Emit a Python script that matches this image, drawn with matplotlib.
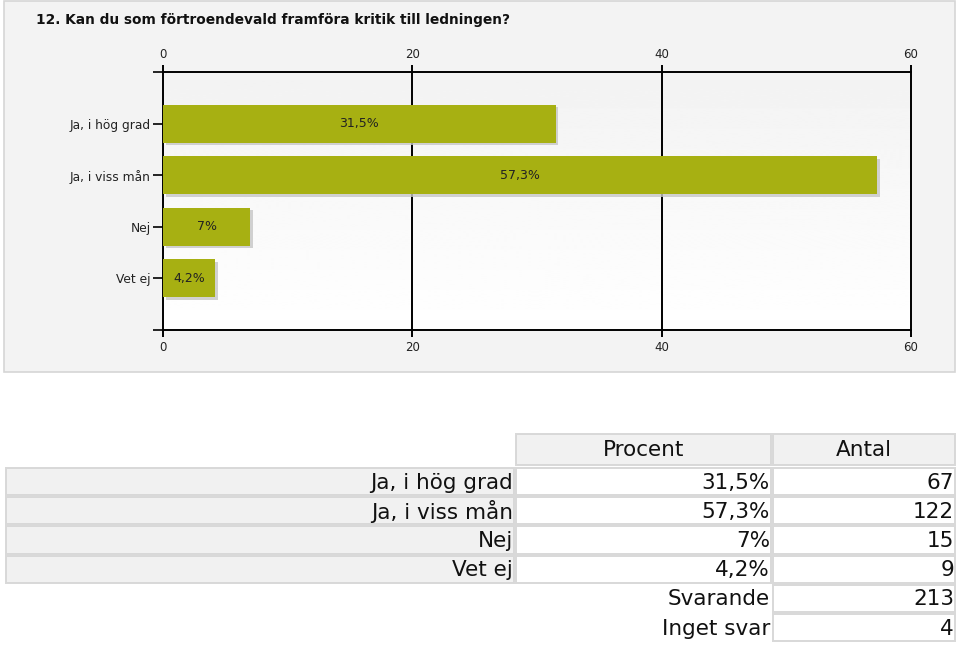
import numpy as np
import matplotlib
matplotlib.use("Agg")
import matplotlib.pyplot as plt
from matplotlib.patches import Rectangle

title = "12. Kan du som förtroendevald framföra kritik till ledningen?"
categories = ["Ja, i hög grad", "Ja, i viss mån", "Nej", "Vet ej"]
percent = [31.5, 57.3, 7.0, 4.2]
percent_labels = ["31,5%", "57,3%", "7%", "4,2%"]
counts = [67, 122, 15, 9]
answered = 213
no_answer = 4
xticks = [0, 20, 40, 60]

W, H = 960, 646
bar_color = "#a7b012"

fig = plt.figure(figsize=(W / 100, H / 100), dpi=100)
fig.patch.set_facecolor("white")

# background axes in pixel coordinates (panel + table)
bg = fig.add_axes([0, 0, 1, 1], zorder=0)
bg.set_xlim(0, W)
bg.set_ylim(H, 0)
bg.axis("off")

bg.add_patch(Rectangle((4, 1), 951, 371, facecolor="#f3f3f3", edgecolor="#d6d6d6", lw=1.2))
bg.text(36, 20, title, fontsize=9.9, fontweight="bold", color="#111111", va="center", ha="left")

# table
col_x = [5, 515, 772, 956]
hdr_top, hdr_bot = 433, 466
row_h = 29.2
cell_bg = "#f1f1f1"
cell_edge = "#d8d8d8"
tfs = 15.5


def cell(x0, x1, y0, y1, fc):
    bg.add_patch(Rectangle((x0 + 1, y0 + 1), x1 - x0 - 2, y1 - y0 - 2,
                           facecolor=fc, edgecolor=cell_edge, lw=1.4))


cell(col_x[1], col_x[2], hdr_top, hdr_bot, cell_bg)
cell(col_x[2], col_x[3], hdr_top, hdr_bot, cell_bg)
bg.text((col_x[1] + col_x[2]) / 2, (hdr_top + hdr_bot) / 2 + 1, "Procent", fontsize=tfs,
        ha="center", va="center", color="#111111")
bg.text((col_x[2] + col_x[3]) / 2, (hdr_top + hdr_bot) / 2 + 1, "Antal", fontsize=tfs,
        ha="center", va="center", color="#111111")

y = hdr_bot + 1
for cat, pl, n in zip(categories, percent_labels, counts):
    cell(col_x[0], col_x[1], y, y + row_h, cell_bg)
    cell(col_x[1], col_x[2], y, y + row_h, "white")
    cell(col_x[2], col_x[3], y, y + row_h, "white")
    yc = y + row_h / 2 + 1
    bg.text(col_x[1] - 2, yc, cat, fontsize=tfs, ha="right", va="center", color="#111111")
    bg.text(col_x[2] - 2, yc, pl, fontsize=tfs, ha="right", va="center", color="#111111")
    bg.text(col_x[3] - 2, yc, str(n), fontsize=tfs, ha="right", va="center", color="#111111")
    y += row_h

for lab, n in [("Svarande", answered), ("Inget svar", no_answer)]:
    cell(col_x[2], col_x[3], y, y + row_h, "white")
    yc = y + row_h / 2 + 1
    bg.text(col_x[2] - 2, yc, lab, fontsize=tfs, ha="right", va="center", color="#111111")
    bg.text(col_x[3] - 2, yc, str(n), fontsize=tfs, ha="right", va="center", color="#111111")
    y += row_h

# bar chart
left, right, top, bottom = 163, 911, 72, 330
ax = fig.add_axes([left / W, 1 - bottom / H, (right - left) / W, (bottom - top) / H], zorder=1)
ax.set_xlim(0, 60)
ax.set_ylim(4, -1)

grad = np.linspace(0.95, 1.0, 256).reshape(-1, 1)
ax.imshow(grad, extent=[0, 60, 4, -1], aspect="auto", cmap="gray", vmin=0, vmax=1,
          interpolation="bilinear", zorder=0)

pos = np.arange(len(categories))
ax.barh(pos + 0.05, percent, left=0.22, height=0.74, color="#c6c6c6", alpha=0.8, zorder=2)
ax.barh(pos, percent, height=0.74, color=bar_color, zorder=3)
for p, v, lab in zip(pos, percent, percent_labels):
    ax.text(v / 2, p, lab, ha="center", va="center", fontsize=9, color="#222222", zorder=4)

for g in xticks[1:-1]:
    ax.axvline(g, color="black", lw=1.4, zorder=1)

for s in ax.spines.values():
    s.set_color("black")
    s.set_linewidth(1.4)

ax.set_xticks(xticks)
ax.set_xticklabels([str(t) for t in xticks], fontsize=8.5, color="#222222")
ax.tick_params(axis="x", which="both", top=True, bottom=True, labeltop=True, labelbottom=True,
               direction="out", length=5, width=1.4, pad=3)
ax.set_yticks([-1] + list(pos) + [4])
ax.set_yticklabels([""] + categories + [""], fontsize=8.8, color="#222222")
ax.tick_params(axis="y", direction="out", length=7, width=1.2, pad=2)

fig.savefig("out.png", dpi=100)
